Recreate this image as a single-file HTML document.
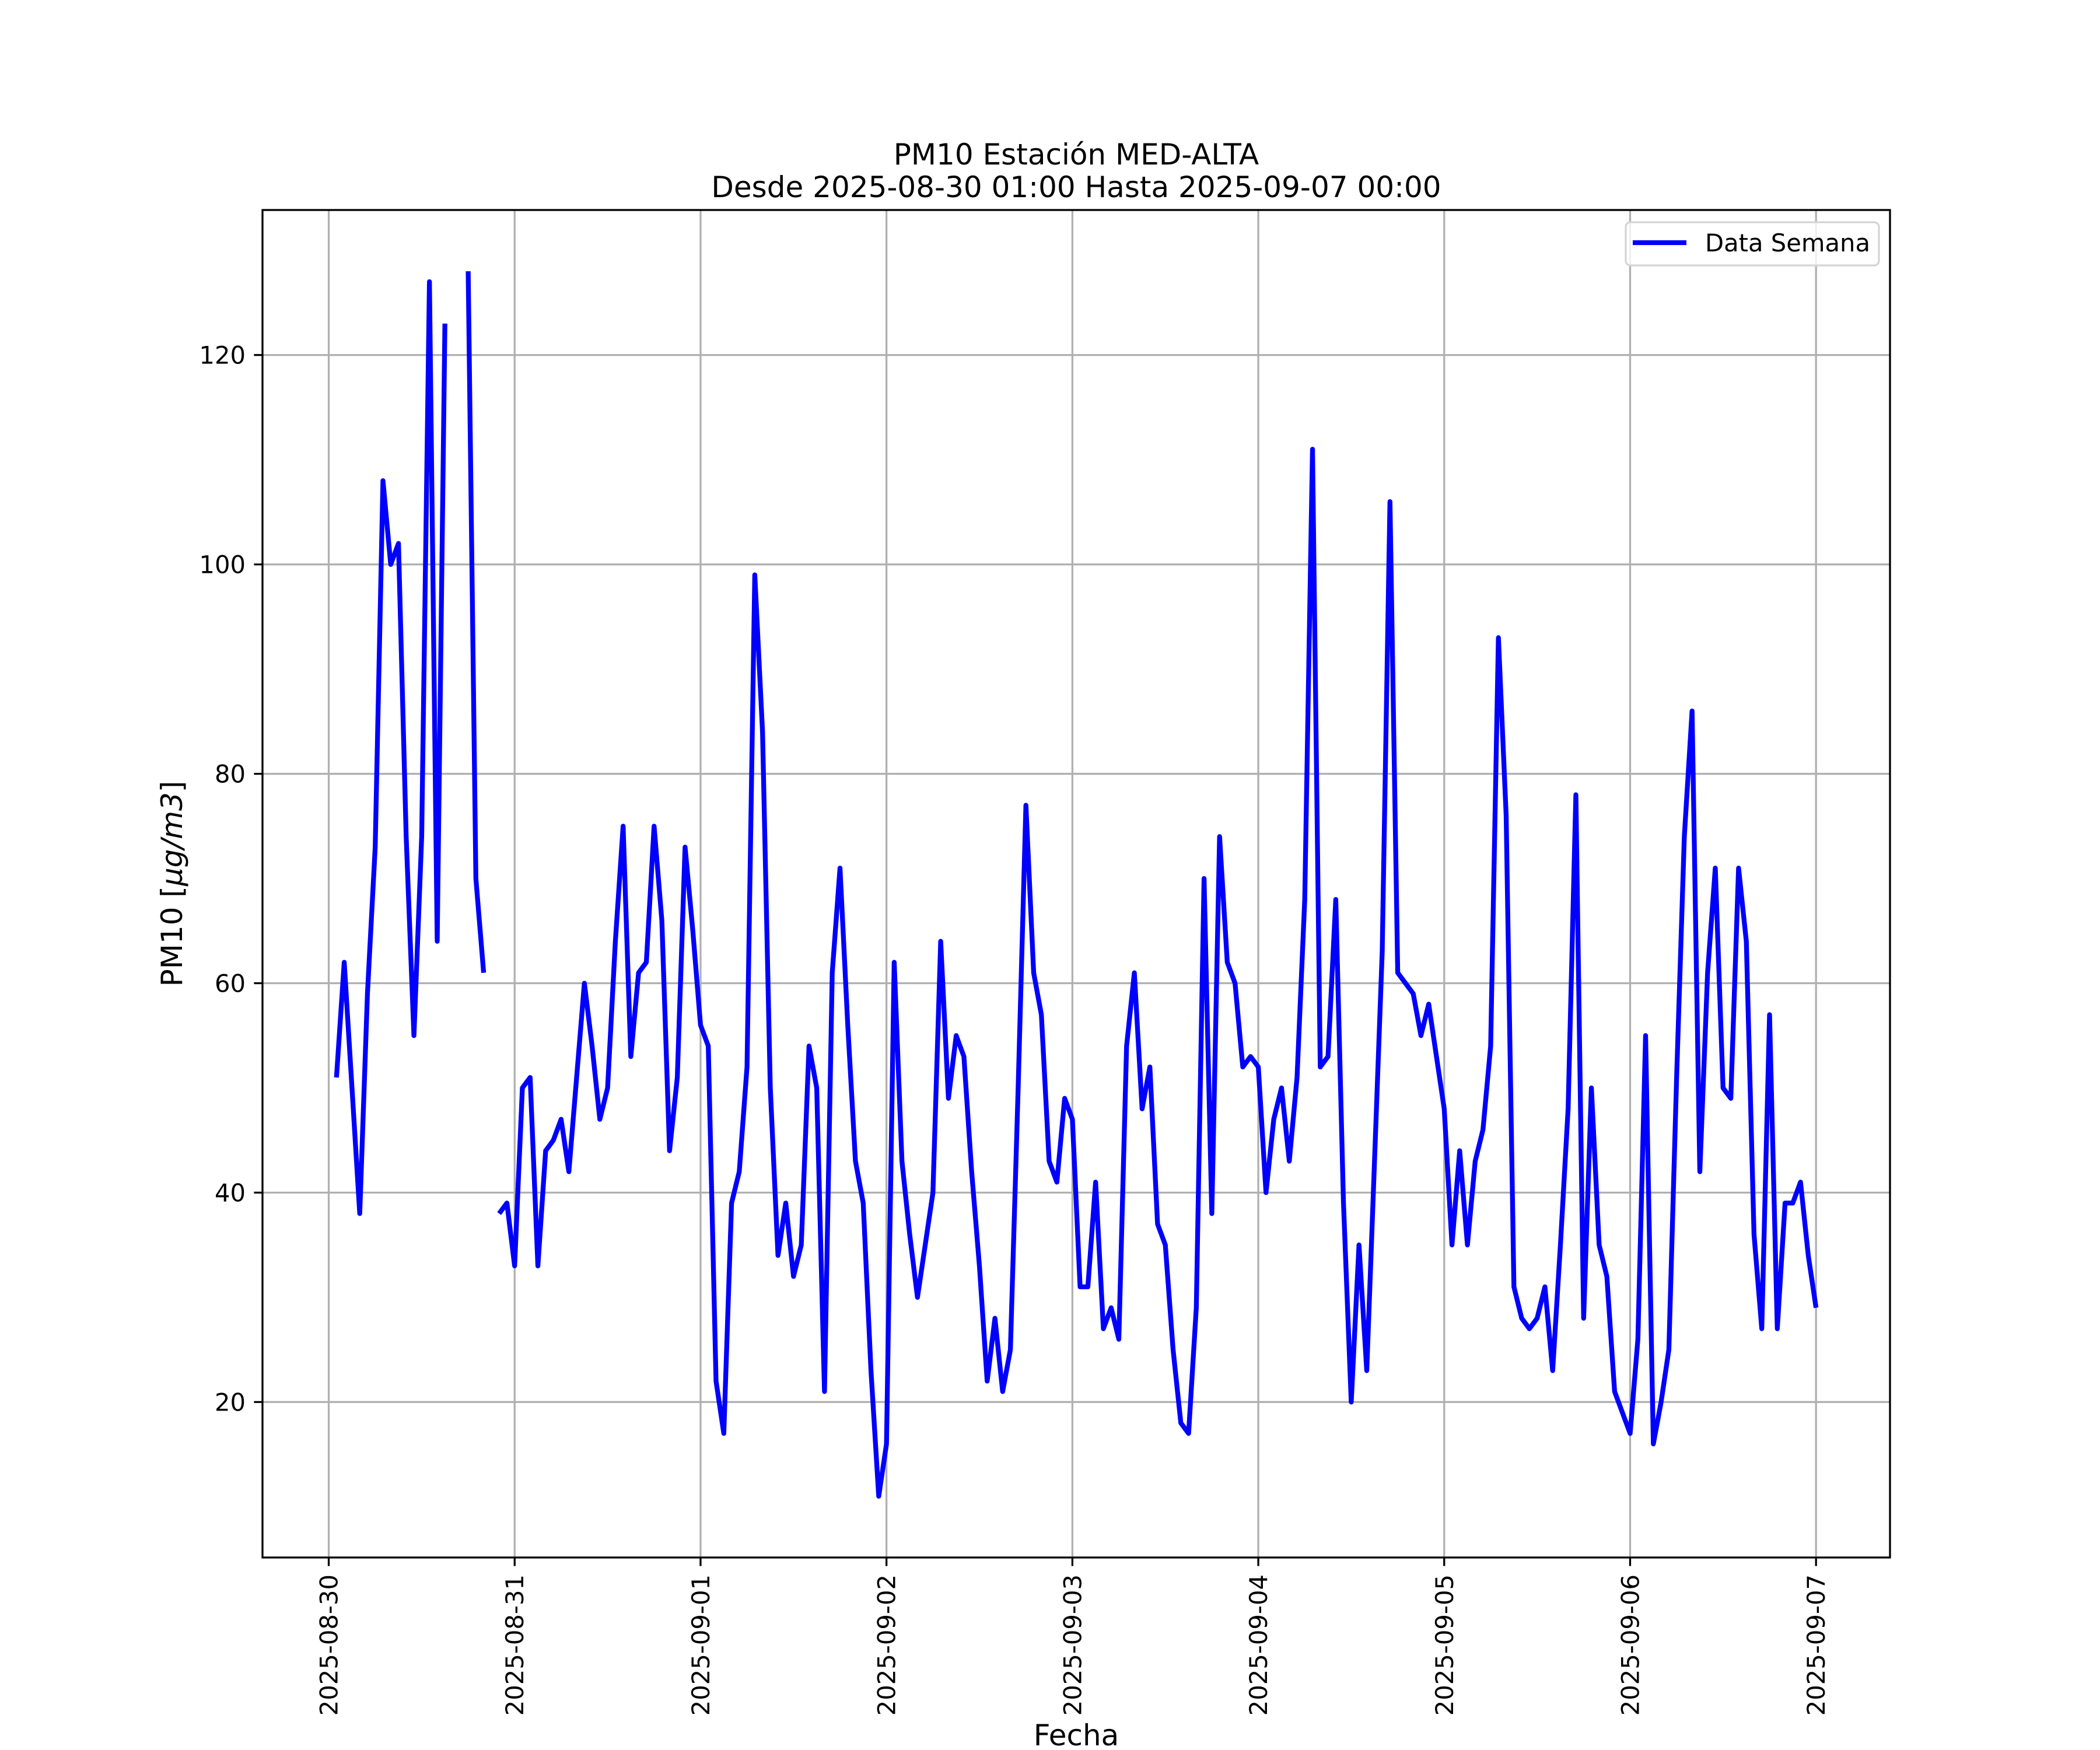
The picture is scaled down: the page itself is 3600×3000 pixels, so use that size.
<!DOCTYPE html>
<html><head><meta charset="utf-8">
<style>
html,body{margin:0;padding:0;background:#fff;}
svg{display:block;font-family:"DejaVu Sans","Liberation Sans",sans-serif;}
</style></head>
<body>
<svg id="chart" width="3600" height="3000" viewBox="0 0 3600 3000" xmlns="http://www.w3.org/2000/svg">
<rect x="0" y="0" width="3600" height="3000" fill="#fff"/>
<g id="grid"></g>
<g id="series"></g>
<rect x="450" y="360" width="2790" height="2310" fill="none" stroke="#000" stroke-width="3.3"/>
<g id="xticks"></g>
<g id="yticks"></g>
<text x="1845" y="282" font-size="50" text-anchor="middle">PM10 Estación MED-ALTA</text>
<text x="1845" y="338" font-size="50" text-anchor="middle">Desde 2025-08-30 01:00 Hasta 2025-09-07 00:00</text>
<text x="1845" y="2992" font-size="50" text-anchor="middle">Fecha</text>
<text transform="translate(312,1515) rotate(-90)" font-size="50" text-anchor="middle">PM10 [<tspan font-style="italic">μg/m3</tspan>]</text>
<g>
<rect x="2787" y="381" width="434" height="74" rx="8" fill="#fff" fill-opacity="0.8" stroke="#d5d5d5" stroke-width="3.3"/>
<line x1="2799" y1="416" x2="2891" y2="416" stroke="#0000ff" stroke-width="8.3"/>
<text x="2923" y="431" font-size="41.7">Data Semana</text>
</g>
</svg>
<script>
const hours = [1,2,3,4,5,6,7,8,9,10,11,12,13,14,15,16,17,18,19,20,21,22,23,24,25,26,27,28,29,30,31,32,33,34,35,36,37,38,39,40,41,42,43,44,45,46,47,48,49,50,51,52,53,54,55,56,57,58,59,60,61,62,63,64,65,66,67,68,69,70,71,72,73,74,75,76,77,78,79,80,81,82,83,84,85,86,87,88,89,90,91,92,93,94,95,96,97,98,99,100,101,102,103,104,105,106,107,108,109,110,111,112,113,114,115,116,117,118,119,120,121,122,123,124,125,126,127,128,129,130,131,132,133,134,135,136,137,138,139,140,141,142,143,144,145,146,147,148,149,150,151,152,153,154,155,156,157,158,159,160,161,162,163,164,165,166,167,168,169,170,171,172,173,174,175,176,177,178,179,180,181,182,183,184,185,186,187,188,189,190,191,192];
const pm10 = [51,62,50,38,59,73,108,100,102,74,55,74,127,64,123,null,null,128,70,61,null,38,39,33,
50,51,33,44,45,47,42,51,60,54,47,50,64,75,53,61,62,75,66,44,51,73,65,56,
54,22,17,39,42,52,99,84,50,34,39,32,35,54,50,21,61,71,56,43,39,23,11,16,
62,43,36,30,35,40,64,49,55,53,42,33,22,28,21,25,50,77,61,57,43,41,49,47,
31,31,41,27,29,26,54,61,48,52,37,35,25,18,17,29,70,38,74,62,60,52,53,52,
40,47,50,43,51,68,111,52,53,68,39,20,35,23,43,63,106,61,60,59,55,58,53,48,
35,44,35,43,46,54,93,76,31,28,27,28,31,23,35,48,78,28,50,35,32,21,19,17,
26,55,16,20,25,51,74,86,42,61,71,50,49,71,64,36,27,57,27,39,39,41,34,29];
const xTickLabels = ["2025-08-30","2025-08-31","2025-09-01","2025-09-02","2025-09-03","2025-09-04","2025-09-05","2025-09-06","2025-09-07"];
const yTickValues = [20,40,60,80,100,120];

const NS="http://www.w3.org/2000/svg";
const L=450,R=3240,T=360,B=2670;
const xMin=1-0.05*191, xMax=192+0.05*191;
const yMin=5.15, yMax=133.85;
const xs=h=>L+(h-xMin)/(xMax-xMin)*(R-L);
const ys=v=>B-(v-yMin)/(yMax-yMin)*(B-T);
function mk(tag,attrs,parent){const e=document.createElementNS(NS,tag);for(const k in attrs)e.setAttribute(k,attrs[k]);parent.appendChild(e);return e;}
const grid=document.getElementById('grid'),xt=document.getElementById('xticks'),yt=document.getElementById('yticks'),ser=document.getElementById('series');
xTickLabels.forEach((lab,i)=>{
  const x=xs(i*24);
  const g=mk('line',{x1:x,y1:T,x2:x,y2:B,stroke:'#b0b0b0','stroke-width':3.3},grid);
  
  
  const t=mk('line',{x1:x,y1:B,x2:x,y2:B+14.6,stroke:'#000','stroke-width':3.3},xt);
  
  
  const tx=mk('text',{transform:`translate(${x+15},${B+29}) rotate(-90)`,'font-size':41.7,'text-anchor':'end'},xt);
  tx.textContent=lab;
  
  
});
yTickValues.forEach(v=>{
  const y=ys(v);
  const g=mk('line',{x1:L,y1:y,x2:R,y2:y,stroke:'#b0b0b0','stroke-width':3.3},grid);
  
  
  const t=mk('line',{x1:L-14.6,y1:y,x2:L,y2:y,stroke:'#000','stroke-width':3.3},yt);
  
  
  const tx=mk('text',{x:L-29,y:y+15,'font-size':41.7,'text-anchor':'end'},yt);
  tx.textContent=String(v);
  
  
});
let d='',pen=false;
hours.forEach((h,i)=>{
  const v=pm10[i];
  if(v===null||v===undefined){pen=false;return;}
  d+=(pen?'L':'M')+xs(h).toFixed(1)+' '+ys(v).toFixed(1)+' ';
  pen=true;
});
const p=mk('path',{d:d,fill:'none',stroke:'#0000ff','stroke-width':8.3,'stroke-linejoin':'round','stroke-linecap':'butt'},ser);


</script>
</body></html>
